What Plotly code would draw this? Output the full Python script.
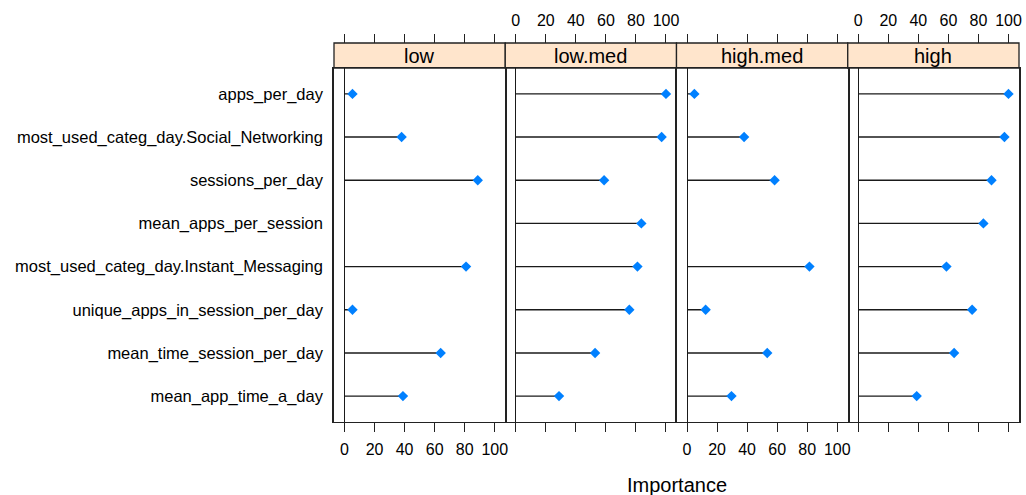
import plotly.graph_objects as go

features = [
    "apps_per_day",
    "most_used_categ_day.Social_Networking",
    "sessions_per_day",
    "mean_apps_per_session",
    "most_used_categ_day.Instant_Messaging",
    "unique_apps_in_session_per_day",
    "mean_time_session_per_day",
    "mean_app_time_a_day",
]
panels = ["low", "low.med", "high.med", "high"]

low = [5.3, 38.0, 88.7, None, 80.9, 5.3, 64.0, 38.9]
low_med = [100.0, 97.1, 58.8, 83.6, 81.0, 75.6, 52.8, 28.8]
high_med = [4.9, 38.0, 58.3, None, 81.5, 12.4, 53.4, 29.6]
high = [100.0, 97.3, 88.7, 83.3, 58.7, 75.8, 63.8, 38.9]
values = [low, low_med, high_med, high]

tick_vals = [0, 20, 40, 60, 80, 100]
tick_text = ["0", "20", "40", "60", "80", "100"]
x_range = [-7, 107]

FONT = "Liberation Sans, Arial, sans-serif"
DOT = "#0080FF"

W, H = 1026, 495
ml, mr, mt, mb = 334, 4, 43, 73
plot_h = H - mt - mb
panel_top = (422 - 68) / plot_h  # fraction where strip starts

fig = go.Figure()
n = len(panels)
for i, (name, vals) in enumerate(zip(panels, values)):
    k = i + 1
    xs, ys, mx, my = [], [], [], []
    for f, v in zip(features, vals):
        if v is None:
            continue
        xs += [0, v, None]
        ys += [f, f, None]
        mx.append(v)
        my.append(f)
    xa = "x" if k == 1 else f"x{k}"
    ya = "y" if k == 1 else f"y{k}"
    fig.add_trace(go.Scatter(x=xs, y=ys, mode="lines", xaxis=xa, yaxis=ya,
                             line=dict(color="#1a1a1a", width=1.4),
                             hoverinfo="skip", showlegend=False))
    fig.add_trace(go.Scatter(x=mx, y=my, mode="markers", xaxis=xa, yaxis=ya,
                             marker=dict(symbol="diamond", size=8, color=DOT,
                                         line=dict(width=0)),
                             showlegend=False))
    # invisible trace for top axis
    fig.add_trace(go.Scatter(x=[None], y=[None], xaxis=f"x{k + n}", yaxis=ya,
                             mode="markers", showlegend=False, hoverinfo="skip"))

    d0, d1 = i / n, (i + 1) / n
    common_x = dict(range=x_range, tickvals=tick_vals, ticktext=tick_text,
                    ticks="outside", ticklen=9, tickwidth=1, tickcolor="#222222",
                    tickfont=dict(family=FONT, size=16, color="black"),
                    showgrid=False, fixedrange=True)
    fig.layout[f"xaxis{k}"] = dict(
        domain=[d0, d1], anchor=ya, side="bottom",
        showline=True, linecolor="#222222", linewidth=1.3, mirror=True,
        zeroline=True, zerolinecolor="#1a1a1a", zerolinewidth=1.1,
        showticklabels=(k % 2 == 1), ticklabelstandoff=4, **common_x)
    fig.layout[f"xaxis{k + n}"] = dict(
        domain=[d0, d1], overlaying=xa, anchor="free", position=1, side="top",
        showline=False, zeroline=False,
        showticklabels=(k % 2 == 0), ticklabelstandoff=2, **common_x)
    # borders: avoid double lines between adjacent panels
    if k in (1, 3):
        border = dict(showline=True, mirror=True, side="left")
    elif k == 4:
        border = dict(showline=True, mirror=False, side="right")
    else:
        border = dict(showline=False, mirror=False, side="left")
    fig.layout[f"yaxis{k}"] = dict(
        domain=[0, panel_top], anchor=xa, type="category",
        categoryorder="array", categoryarray=features[::-1],
        range=[-0.6, len(features) - 0.4],
        linecolor="#222222", linewidth=1.5,
        showgrid=False, zeroline=False, ticks="",
        showticklabels=(k == 1), ticklabelstandoff=6,
        tickfont=dict(family=FONT, size=16.5, color="black"), fixedrange=True,
        **border)
    # strip
    fig.add_shape(type="rect", xref=f"{xa} domain", yref="paper",
                  x0=0, x1=1, y0=panel_top, y1=1,
                  fillcolor="#FFE5CC", line=dict(color="#222222", width=1.3),
                  layer="below")
    fig.add_annotation(text=name, xref=f"{xa} domain", yref="paper",
                       x=0.5, y=(panel_top + 1) / 2, yshift=-1, showarrow=False,
                       xanchor="center", yanchor="middle",
                       font=dict(family=FONT, size=20, color="black"))

fig.add_annotation(text="Importance", xref="paper", yref="paper",
                   x=0.5, y=0, yshift=-63, xanchor="center", yanchor="middle",
                   showarrow=False, font=dict(family=FONT, size=20, color="black"))

fig.update_layout(width=W, height=H, margin=dict(l=ml, r=mr, t=mt, b=mb),
                  paper_bgcolor="white", plot_bgcolor="white",
                  font=dict(family=FONT, color="black"))

fig.write_html("out.html")
